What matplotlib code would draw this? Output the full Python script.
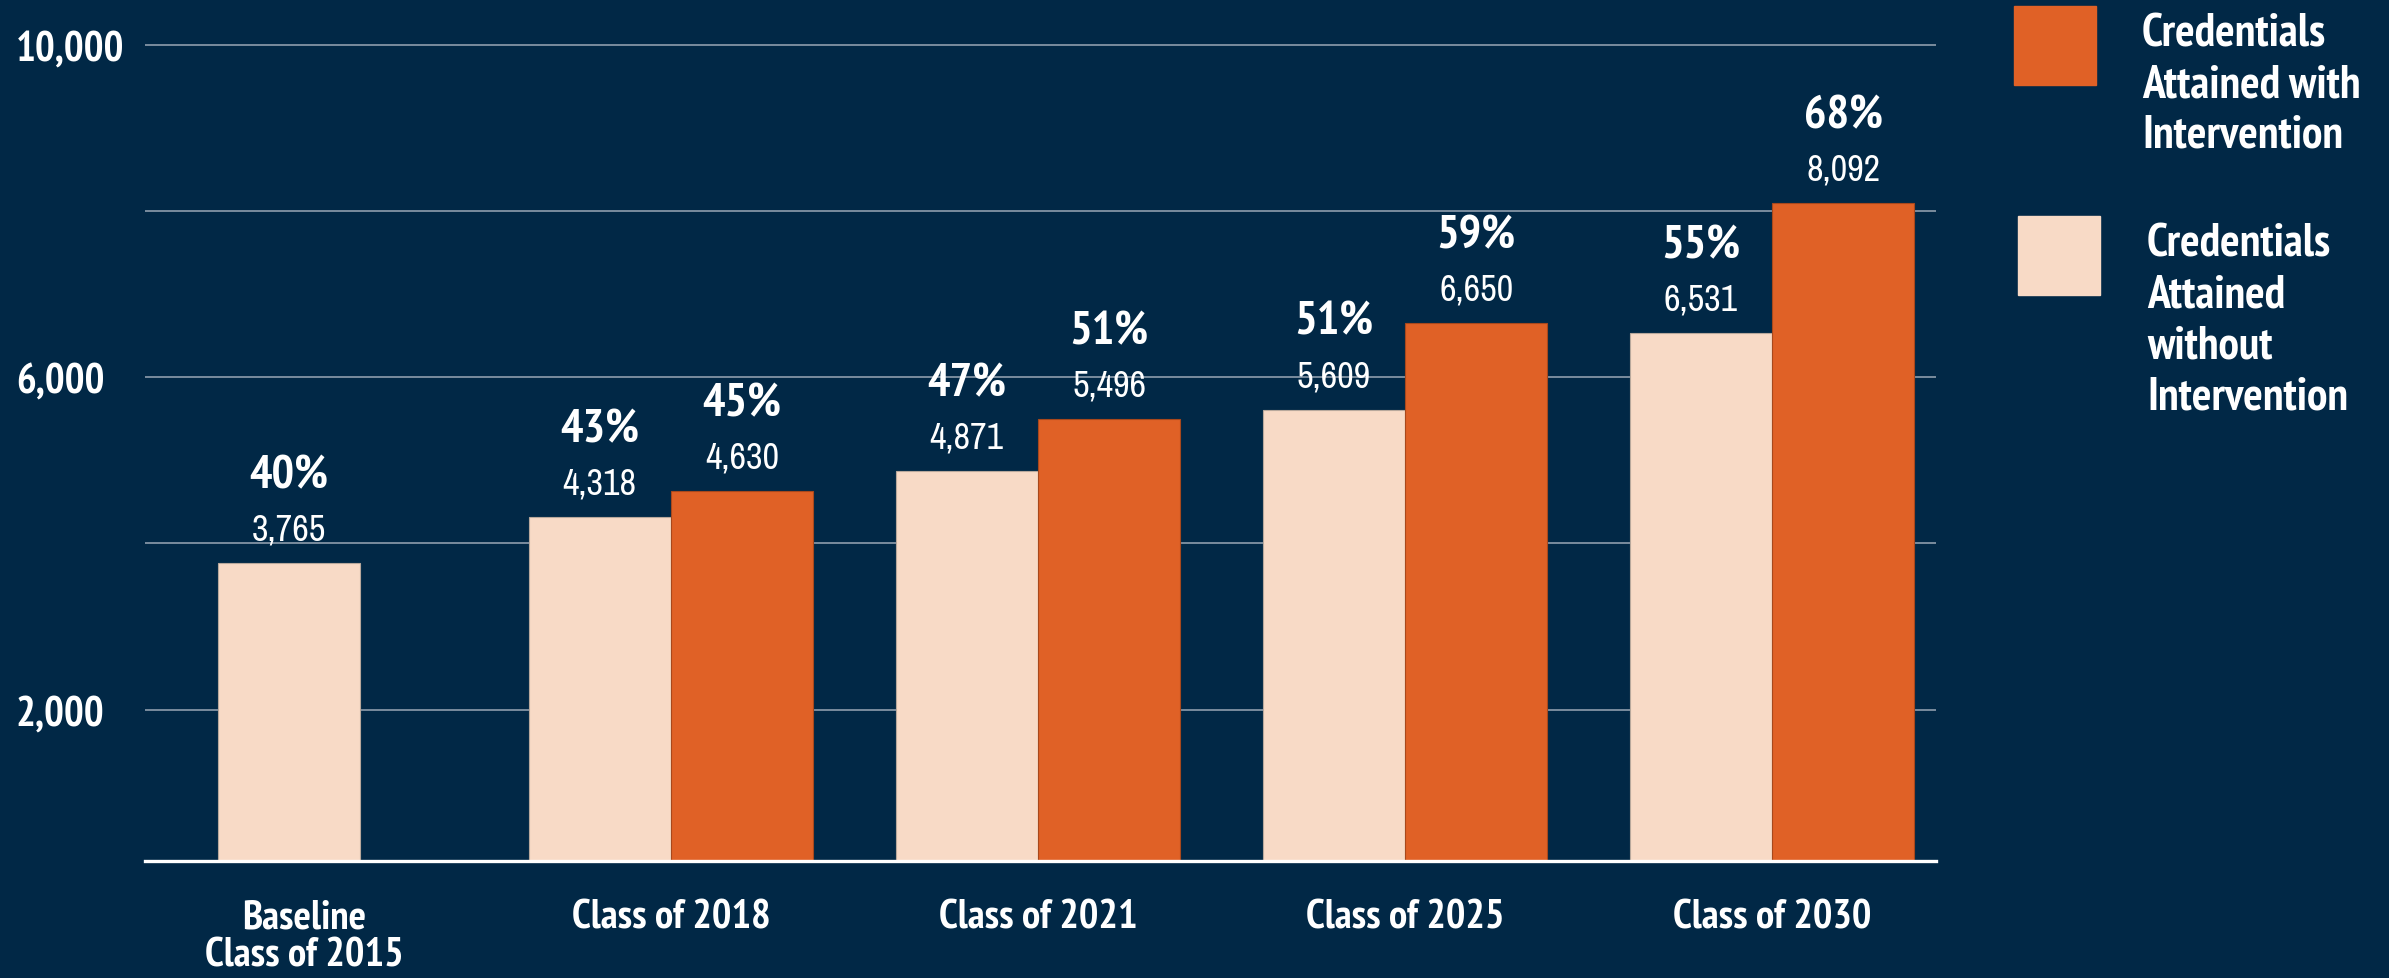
import matplotlib
matplotlib.use('Agg')
import matplotlib.pyplot as plt
from matplotlib.patches import Rectangle
from matplotlib import font_manager as fm

# data
categories = ['Baseline\nClass of 2015', 'Class of 2018', 'Class of 2021', 'Class of 2025', 'Class of 2030']
without_vals = [3765, 4318, 4871, 5609, 6531]
without_pct = ['40%', '43%', '47%', '51%', '55%']
with_vals = [None, 4630, 5496, 6650, 8092]
with_pct = [None, '45%', '51%', '59%', '68%']
grid_vals = [2000, 4000, 6000, 8000, 10000]
ytick_labels = ['2,000', '', '6,000', '', '10,000']
legend_with = 'Credentials\nAttained with\nIntervention'
legend_without = 'Credentials\nAttained\nwithout\nIntervention'

BG = '#012846'
ORANGE = '#E06126'
PEACH = '#F8DAC6'
GRID = '#7A8C9E'


# look for a condensed / narrow face, the reference uses an Arial Narrow look
def find_face(bold):
    best = None
    for f in fm.fontManager.ttflist:
        name = (f.fname + ' ' + f.name).lower()
        narrow = 'narrow' in name or 'condensed' in name or f.stretch in ('condensed', 'semi-condensed')
        if not narrow or 'extra' in name or 'ultra' in name or 'semi' in name:
            continue
        if 'italic' in name or f.style != 'normal':
            continue
        w = f.weight if isinstance(f.weight, int) else (700 if 'bold' in str(f.weight) else 400)
        if bold and w != 700:
            continue
        if not bold and w != 400:
            continue
        score = 0 if 'narrow' in name else 1
        if best is None or score < best[0]:
            best = (score, f.fname)
    return best[1] if best else None


bold_file = find_face(True)
reg_file = find_face(False)
if bold_file and reg_file:
    fp_bold = lambda s: fm.FontProperties(fname=bold_file, size=s)
    fp_reg = lambda s: fm.FontProperties(fname=reg_file, size=s)
    shrink = 1.0
else:
    fp_bold = lambda s: fm.FontProperties(family=['Roboto', 'DejaVu Sans'], weight='bold', size=s)
    fp_reg = lambda s: fm.FontProperties(family=['Roboto', 'DejaVu Sans'], weight='normal', size=s)
    shrink = 0.93

W, H = 2389, 979
fig = plt.figure(figsize=(W / 100, H / 100), dpi=100, facecolor=BG)
ax = fig.add_axes([145 / W, 1 - 862 / H, (1936 - 145) / W, (862 - 37.4) / H])
ax.set_facecolor(BG)

bw = 0.388
xs = list(range(len(categories)))

for i, x in enumerate(xs):
    if with_vals[i] is None:
        # baseline: single bar, centred
        bars = [(x - 0.04, without_vals[i], without_pct[i], PEACH, '#B8A89C')]
    else:
        bars = [(x - bw / 2, without_vals[i], without_pct[i], PEACH, '#B8A89C'),
                (x + bw / 2, with_vals[i], with_pct[i], ORANGE, '#A8481C')]
    for cx, v, p, c, ec in bars:
        ax.bar(cx, v, width=bw, color=c, edgecolor=ec, linewidth=0.8, zorder=3)
        ax.annotate(f'{v:,}', (cx, v), xytext=(0, 34), textcoords='offset pixels',
                    ha='center', va='center', color='white',
                    fontproperties=fp_reg(26 * shrink))
        ax.annotate(p, (cx, v), xytext=(0, 88), textcoords='offset pixels',
                    ha='center', va='center', color='white',
                    fontproperties=fp_bold(34 * shrink))

ax.set_xlim(-0.433, 4.447)
ax.set_ylim(180, 10100)

for g in grid_vals:
    ax.axhline(g, color=GRID, linewidth=1.4, zorder=1)

ax.set_yticks(grid_vals)
ax.set_yticklabels(ytick_labels, color='white')
for lab in ax.get_yticklabels():
    lab.set_horizontalalignment('left')
    lab.set_fontproperties(fp_bold(30 * shrink))
ax.tick_params(axis='y', length=0, pad=(145 - 16) * 0.72)

ax.set_xticks(xs)
ax.set_xticklabels(categories, color='white', linespacing=1.05)
for lab in ax.get_xticklabels():
    lab.set_fontproperties(fp_bold(29.5 * shrink))
ax.tick_params(axis='x', length=0, pad=27)

for s in ['top', 'right', 'left']:
    ax.spines[s].set_visible(False)
ax.spines['bottom'].set_color('white')
ax.spines['bottom'].set_linewidth(2.4)
ax.spines['bottom'].set_zorder(4)


# legend drawn by hand in pixel coordinates
def px_rect(x0, y0, x1, y1, color):
    fig.add_artist(Rectangle((x0 / W, 1 - y1 / H), (x1 - x0) / W, (y1 - y0) / H,
                             transform=fig.transFigure, color=color))


px_rect(2014, 7, 2096, 86, ORANGE)
px_rect(2018, 217, 2100, 296, PEACH)
fig.text(2142 / W, 1 - 85 / H, legend_with, ha='left', va='center', color='white',
         fontproperties=fp_bold(33 * shrink), linespacing=1.27)
fig.text(2147 / W, 1 - 321 / H, legend_without, ha='left', va='center', color='white',
         fontproperties=fp_bold(33 * shrink), linespacing=1.27)

fig.savefig('out.png', dpi=100, facecolor=BG)
